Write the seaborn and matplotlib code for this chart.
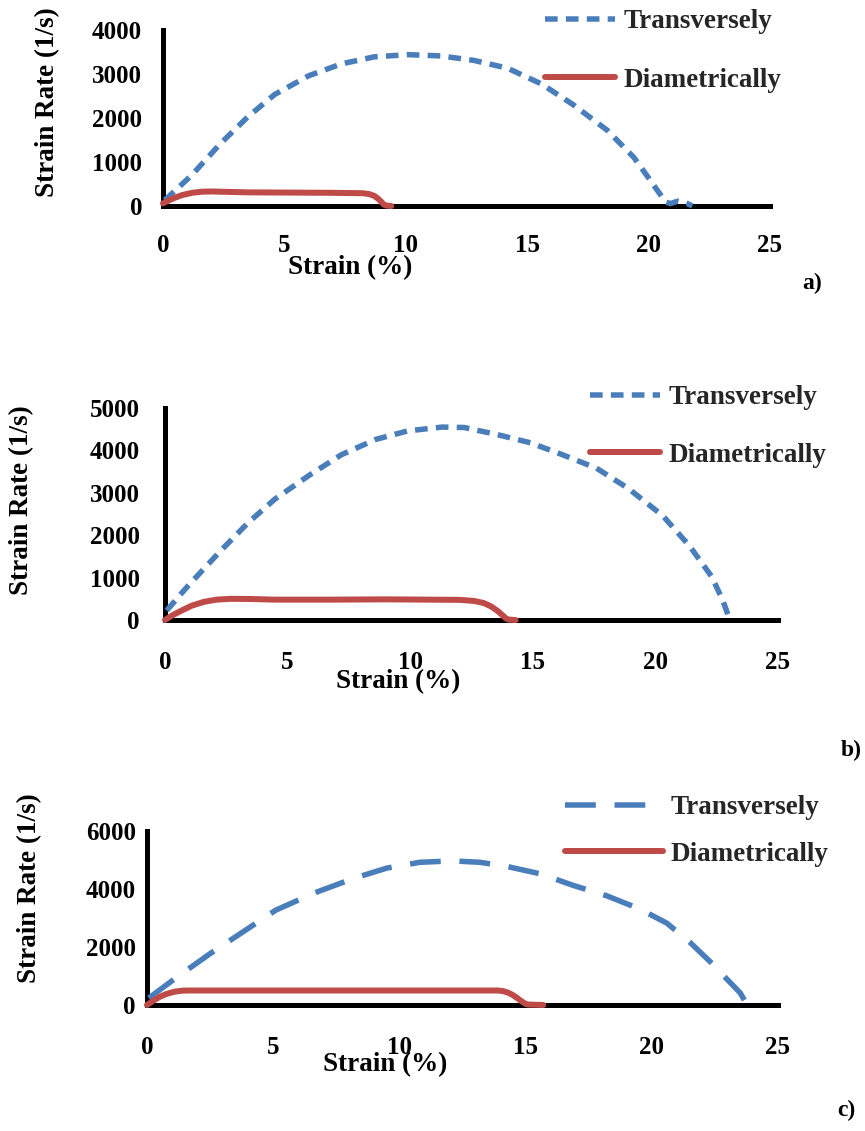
import numpy as np
import pandas as pd
import matplotlib
matplotlib.use("Agg")
import matplotlib.pyplot as plt
import seaborn as sns

# ---------------- data ----------------
# Panel a)
a_trans_strain = [0.07, 1.2, 2.35, 3.5, 4.6, 6.0, 7.35, 8.7, 10.1, 11.45, 12.8, 14.2, 15.6,
                  16.9, 18.3, 19.4, 20.1, 20.7, 20.9, 21.2, 21.6, 21.8]
a_trans_rate = [130, 710, 1410, 2030, 2535, 2960, 3230, 3390, 3440, 3410, 3310, 3130, 2770,
                2300, 1720, 1100, 560, 90, 55, 110, 55, 0]
a_diam_strain = [0.0, 0.25, 0.5, 0.8, 1.2, 1.6, 2.0, 3.5, 6.9, 8.25, 8.5, 8.7, 8.85, 9.0, 9.1, 9.2, 9.4]
a_diam_rate = [60, 130, 190, 250, 300, 325, 330, 310, 300, 290, 270, 230, 170, 90, 30, 10, 0]

# Panel b)
b_trans_strain = [0.07, 0.9, 2.25, 3.4, 4.5, 5.9, 7.2, 8.6, 9.9, 11.3, 12.2, 13.5, 14.9,
                  16.2, 17.6, 18.9, 20.3, 21.4, 22.3, 22.75, 23.0, 23.1]
b_trans_rate = [225, 780, 1620, 2300, 2860, 3420, 3900, 4260, 4460, 4550, 4540, 4380, 4180,
                3900, 3580, 3100, 2460, 1740, 1020, 460, 60, 0]
b_diam_strain = [0.0, 0.3, 0.7, 1.1, 1.6, 2.1, 2.7, 3.5, 4.5, 6.75, 9.0, 12.0, 12.6, 13.0,
                 13.3, 13.55, 13.75, 13.9, 14.0, 14.3]
b_diam_rate = [0, 110, 230, 340, 430, 480, 500, 495, 480, 480, 487, 475, 450, 400,
               320, 220, 120, 40, 10, 0]

# Panel c)
c_trans_strain = [0.07, 1.2, 2.5, 3.8, 5.1, 6.65, 8.2, 9.5, 10.8, 12.1, 13.2, 14.3, 15.6,
                  16.9, 18.2, 19.5, 20.6, 21.5, 22.4, 23.0, 23.5, 23.7, 23.8]
c_trans_rate = [240, 970, 1770, 2520, 3270, 3870, 4370, 4720, 4920, 4970, 4920, 4770, 4520,
                4120, 3770, 3320, 2820, 2170, 1420, 870, 420, 120, 0]
c_diam_strain = [0.0, 0.25, 0.5, 0.8, 1.1, 1.4, 1.7, 7.3, 13.9, 14.1, 14.3, 14.5, 14.7,
                 14.85, 15.0, 15.1, 15.7]
c_diam_rate = [0, 150, 280, 390, 460, 495, 500, 500, 500, 480, 430, 340, 220,
               120, 40, 15, 0]

series_names = ["Transversely", "Diametrically"]
x_ticks = [0, 5, 10, 15, 20, 25]
a_yticks = [0, 1000, 2000, 3000, 4000]
b_yticks = [0, 1000, 2000, 3000, 4000, 5000]
c_yticks = [0, 2000, 4000, 6000]
panel_tags = ["a)", "b)", "c)"]
x_label = "Strain (%)"
y_label = "Strain Rate (1/s)"

# ---------------- style ----------------
sns.set_theme(style="white")
plt.rcParams["font.family"] = ["Liberation Serif", "DejaVu Serif"]
plt.rcParams["font.weight"] = "bold"

W, H = 865, 1131
PT = 72 / 100.0  # points per pixel at dpi 100
fig = plt.figure(figsize=(W / 100, H / 100), dpi=100)

BLUE = "#4A7EBB"
RED = "#BE4B48"
FS = 18
FS_LAB = 19.5


def px_axes(l, r, t, b):
    return fig.add_axes([l / W, 1 - b / H, (r - l) / W, (b - t) / H])


panels = [
    dict(box=(163, 770, 30, 206), ts=a_trans_strain, tv=a_trans_rate, ds=a_diam_strain, dv=a_diam_rate,
         yt=a_yticks, dash=(2.3, 1.5), xpad=20, ypad=15,
         leg=(545, 9), hl=2.6, ls=1.25, xl=(350, 268), yl=(48, 102), tag=(812, 283)),
    dict(box=(165, 778, 408, 620), ts=b_trans_strain, tv=b_trans_rate, ds=b_diam_strain, dv=b_diam_rate,
         yt=b_yticks, dash=(2.3, 1.5), xpad=22, ypad=18,
         leg=(590, 385), hl=2.6, ls=1.2, xl=(398, 682), yl=(22, 500), tag=(851, 750)),
    dict(box=(147, 778, 831, 1005), ts=c_trans_strain, tv=c_trans_rate, ds=c_diam_strain, dv=c_diam_rate,
         yt=c_yticks, dash=(5.6, 3.4), xpad=22, ypad=8,
         leg=(565, 795), hl=3.6, ls=0.8, xl=(385, 1065), yl=(30, 888), tag=(846, 1110)),
]

for i, p in enumerate(panels):
    ax = px_axes(*p["box"])
    df_t = pd.DataFrame({"Strain": p["ts"], "Rate": p["tv"]})
    df_d = pd.DataFrame({"Strain": p["ds"], "Rate": p["dv"]})
    sns.lineplot(data=df_t, x="Strain", y="Rate", ax=ax, sort=False, color=BLUE,
                 linewidth=5.5 * PT, label=series_names[0], legend=False)
    lt = ax.lines[-1]
    lt.set_dashes(p["dash"])
    lt.set_dash_capstyle("butt")
    lt.set_solid_capstyle("round")
    sns.lineplot(data=df_d, x="Strain", y="Rate", ax=ax, sort=False, color=RED,
                 linewidth=6 * PT, label=series_names[1], legend=False)
    ld = ax.lines[-1]
    ld.set_solid_capstyle("round")
    ld.set_solid_joinstyle("round")
    for ln in (lt, ld):
        ln.set_clip_on(False)
        ln.set_zorder(3)

    ax.set_xlim(0, 25)
    ax.set_ylim(0, p["yt"][-1])
    ax.set_xticks(x_ticks)
    ax.set_yticks(p["yt"])
    ax.set_xlabel("")
    ax.set_ylabel("")
    ax.grid(False)
    ax.set_facecolor("none")
    for s in ("top", "right"):
        ax.spines[s].set_visible(False)
    for s in ("left", "bottom"):
        ax.spines[s].set_color("black")
        ax.spines[s].set_linewidth(5 * PT)
        ax.spines[s].set_zorder(2.5)
    ax.tick_params(axis="x", length=0, pad=p["xpad"], labelsize=FS, colors="black")
    ax.tick_params(axis="y", length=0, pad=p["ypad"], labelsize=FS, colors="black")
    for lab in ax.get_xticklabels() + ax.get_yticklabels():
        lab.set_fontweight("bold")

    leg = ax.legend(handles=[lt, ld], labels=series_names, loc="upper left",
                    bbox_to_anchor=(p["leg"][0] / W, 1 - p["leg"][1] / H),
                    bbox_transform=fig.transFigure, frameon=False, borderpad=0,
                    borderaxespad=0, handlelength=p["hl"], handletextpad=0.3,
                    labelspacing=p["ls"], prop=dict(family="Liberation Serif", weight="bold", size=FS_LAB))

    fig.text(p["xl"][0] / W, 1 - p["xl"][1] / H, x_label, ha="center", va="center",
             fontsize=FS_LAB, fontweight="bold", color="black")
    fig.text(p["yl"][0] / W, 1 - p["yl"][1] / H, y_label, ha="center", va="center",
             rotation=90, fontsize=FS_LAB, fontweight="bold", color="black")
    fig.text(p["tag"][0] / W, 1 - p["tag"][1] / H, panel_tags[i], ha="center", va="center",
             fontsize=FS - 1, fontweight="bold", color="black")

fig.savefig("out.png", dpi=100, facecolor="white")
